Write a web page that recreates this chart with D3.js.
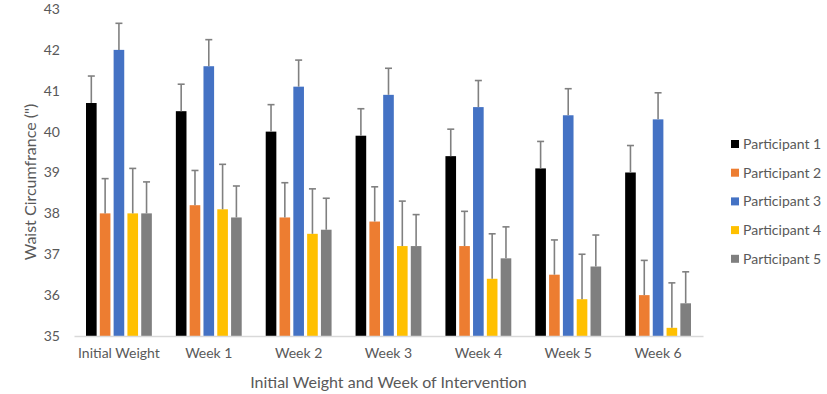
<!DOCTYPE html>
<html lang="en">
<head>
    <meta charset="UTF-8">
    <title>waist</title>
    <script src="https://d3js.org/d3.v7.min.js"></script>
    <style>
        body { margin: 0; background: #fff; }
        text { font-family: Lato, "Open Sans", sans-serif; fill: #595959; }
    </style>
</head>
<body>
<script>
    const width = 827
    const height = 394

    const weeks = ['Initial Weight', 'Week 1', 'Week 2', 'Week 3', 'Week 4', 'Week 5', 'Week 6']
    const participants = ['Participant 1', 'Participant 2', 'Participant 3', 'Participant 4', 'Participant 5']
    const p1 = [40.7, 40.5, 40.0, 39.9, 39.4, 39.1, 39.0]
    const p2 = [38.0, 38.2, 37.9, 37.8, 37.2, 36.5, 36.0]
    const p3 = [42.0, 41.6, 41.1, 40.9, 40.6, 40.4, 40.3]
    const p4 = [38.0, 38.1, 37.5, 37.2, 36.4, 35.9, 35.2]
    const p5 = [38.0, 37.9, 37.6, 37.2, 36.9, 36.7, 35.8]
    // plus-only error bars
    const e1 = [0.66, 0.66, 0.66, 0.66, 0.66, 0.66, 0.66]
    const e2 = [0.85, 0.85, 0.85, 0.85, 0.85, 0.85, 0.85]
    const e3 = [0.65, 0.65, 0.65, 0.65, 0.65, 0.65, 0.65]
    const e4 = [1.1, 1.1, 1.1, 1.1, 1.1, 1.1, 1.1]
    const e5 = [0.77, 0.77, 0.77, 0.77, 0.77, 0.77, 0.77]
    const yTicks = [35, 36, 37, 38, 39, 40, 41, 42, 43]
    const colors = ['#000000', '#ED7D31', '#4472C4', '#FFC000', '#7F7F7F']

    const values = [p1, p2, p3, p4, p5]
    const errors = [e1, e2, e3, e4, e5]

    var svg = d3.select("body").append("svg")
        .attr("width", width)
        .attr("height", height)

    var x0 = d3.scaleBand()
        .domain(weeks)
        .range([74, 703])
    var x1 = d3.scaleBand()
        .domain(participants)
        .range([12, x0.bandwidth() - 12])
        .paddingInner(0.23)
    var y = d3.scaleLinear()
        .domain([35, 43])
        .range([336, 9])

    // y axis labels only
    var yAxis = svg.append("g")
        .attr("transform", "translate(60,0)")
        .call(d3.axisLeft(y).tickValues(yTicks).tickSize(0).tickPadding(0))
    yAxis.select(".domain").remove()
    yAxis.selectAll("text").attr("font-size", 14).attr("fill", "#595959")
        .style("font-family", "Lato, sans-serif")

    // bars
    for (var j = 0; j < participants.length; j++) {
        var g = svg.append("g")
        g.selectAll("rect")
            .data(weeks)
            .enter()
            .append("rect")
            .attr("x", function (d) { return x0(d) + x1(participants[j]) })
            .attr("y", function (d, i) { return y(values[j][i]) })
            .attr("width", x1.bandwidth())
            .attr("height", function (d, i) { return y(35) - y(values[j][i]) })
            .attr("fill", colors[j])
    }

    // error bars
    for (var j = 0; j < participants.length; j++) {
        var eg = svg.append("g")
            .attr("stroke", "#808080")
            .attr("stroke-width", 1.6)
        weeks.forEach(function (w, i) {
            var cx = x0(w) + x1(participants[j]) + x1.bandwidth() / 2
            var top = y(values[j][i] + errors[j][i])
            eg.append("line")
                .attr("x1", cx).attr("x2", cx)
                .attr("y1", y(values[j][i])).attr("y2", top)
            eg.append("line")
                .attr("x1", cx - 3.5).attr("x2", cx + 3.5)
                .attr("y1", top).attr("y2", top)
        })
    }

    // x axis
    var xAxis = svg.append("g")
        .attr("transform", "translate(0,336)")
        .call(d3.axisBottom(x0).tickSize(0).tickPadding(12))
    xAxis.select(".domain").attr("stroke", "#d9d9d9").attr("stroke-width", 1.3)
    xAxis.selectAll("text").attr("font-size", 14).attr("fill", "#595959")
        .style("font-family", "Lato, sans-serif")

    // titles
    svg.append("text")
        .text("Initial Weight and Week of Intervention")
        .attr("x", (74 + 703) / 2)
        .attr("y", 388)
        .attr("text-anchor", "middle")
        .attr("font-size", 16)
    svg.append("text")
        .text("Waist Circumfrance (\")")
        .attr("transform", "translate(36,182) rotate(-90)")
        .attr("text-anchor", "middle")
        .attr("font-size", 16)

    // legend
    var legend = svg.append("g")
        .selectAll("g")
        .data(participants)
        .enter()
        .append("g")
        .attr("transform", function (d, i) { return "translate(731," + (144 + i * 28.7) + ")" })
    legend.append("rect")
        .attr("x", 0).attr("y", -4)
        .attr("width", 8).attr("height", 8)
        .attr("fill", function (d, i) { return colors[i] })
    legend.append("text")
        .text(function (d) { return d })
        .attr("x", 12)
        .attr("y", 5)
        .attr("font-size", 14)
</script>
</body>
</html>
